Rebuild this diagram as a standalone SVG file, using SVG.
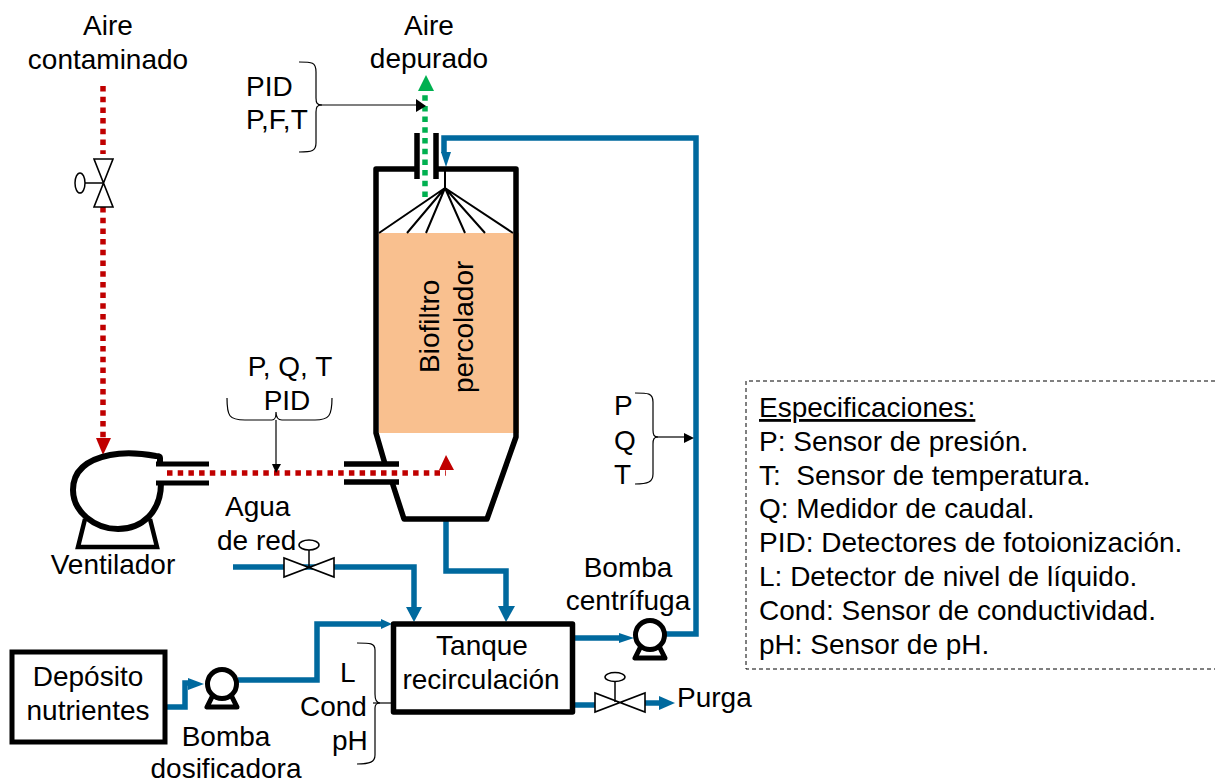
<svg xmlns="http://www.w3.org/2000/svg" width="1215" height="782" viewBox="0 0 1215 782">
<style>
text{font-family:"Liberation Sans",Arial,sans-serif;font-size:28px;fill:#000}
.m{text-anchor:middle}
.blk{fill:none;stroke:#000;stroke-width:5.5;stroke-linejoin:round}
.blue{fill:none;stroke:#00699e;stroke-width:5.5;stroke-linejoin:miter}
.red{fill:none;stroke:#c00000;stroke-width:5.5;stroke-dasharray:5.5 5.2}
.green{fill:none;stroke:#00b050;stroke-width:5.5;stroke-dasharray:5.5 5.2}
.thin{fill:none;stroke:#000;stroke-width:1.2}
.spray{fill:none;stroke:#000;stroke-width:2}
.valve{fill:#fff;stroke:#000;stroke-width:1.6}
</style>
<defs>
<symbol id="pump" overflow="visible"><path d="M-9 11L-15 23H15L9 11" fill="#fff" stroke="#000" stroke-width="5" stroke-linejoin="round"/><circle cx="0" cy="0" r="14.5" fill="#fff" stroke="#000" stroke-width="5"/></symbol>
</defs>

<g id="connectors">
<path class="red" d="M103 86V154"/><path class="red" d="M103 207V438"/>
<path d="M96 438H111L103 455Z" fill="#c00000"/>
<path class="red" d="M167 473H446"/>
<path d="M439 470L446 455L454 470Z" fill="#c00000"/>
<path class="green" d="M425 197V90"/>
<path d="M418 91L426 75L434 91Z" fill="#00b050"/>
<path class="blue" d="M665 634H696V138H444V153"/>
<path d="M441 152H451L446 167Z" fill="#00699e"/>
<path class="blue" d="M446 520V571H506V606"/><path d="M498 606H515L506 622Z" fill="#00699e"/>
<path class="blue" d="M233 567H414V607"/><path d="M406 607H422L414 622Z" fill="#00699e"/>
<path class="blue" d="M238 680H317V624H382"/>
<path class="blue" d="M165 707H185V683H190"/><path d="M188 678L204 684L188 690Z" fill="#00699e"/>
<path class="blue" d="M575 638H620"/><path d="M619 633L634 638L619 643Z" fill="#00699e"/>
<path class="blue" d="M574 705H600M640 703H660"/><path d="M659 696L675 703L659 710Z" fill="#00699e"/>
<path class="thin" d="M318 105H418"/><path d="M416 99L426 106L416 112Z" fill="#000"/>
<path class="thin" d="M655 437H685"/><path d="M684 433L694 438L684 443Z" fill="#000"/>
<path class="thin" d="M276 420V465"/><path d="M272 464L276 473L281 464Z" fill="#000"/>
<path class="thin" d="M373 703H392"/>
</g>

<g id="biofiltro">
<rect x="379" y="233" width="140" height="200" fill="#f9c08f"/>
<path class="blk" d="M417 169H376V433L385 464M392 482L404 519H487L516 437V169H436"/>
<path class="blk" d="M417 133V179M436 133V179"/>
<path class="spray" d="M445 170V188M445 188L379 233M445 188L407 233M445 188L426 233M445 188L465 233M445 188L485 233M445 188L513 233"/>
<path d="M344 464H399M344 482H399" stroke="#000" stroke-width="5.5" fill="none"/>
<text transform="translate(439,373) rotate(-90)">Biofiltro</text>
<text transform="translate(473,393) rotate(-90)">percolador</text>
</g>

<g id="ventilador">
<path d="M85 519L78 547H157L150 519" fill="none" stroke="#000" stroke-width="4.5"/>
<path d="M160 463V458C160 456 158 456 156 456C140 453 125 452 110 455C85 460 73 472 73 490C73 512 95 529 118 529C142 529 161 512 161 483" fill="#fff" stroke="#000" stroke-width="6"/>
<path d="M156 464H209M156 483H209" stroke="#000" stroke-width="5" fill="none"/>
<text class="m" x="113" y="574">Ventilador</text>
</g>

<g id="valvula-aire">
<path class="valve" d="M94 159H113L94 207H113Z"/>
<ellipse cx="80" cy="183" rx="5" ry="10" fill="#fff" stroke="#000" stroke-width="1.5"/>
<path d="M85 183H103" stroke="#000" stroke-width="1.5"/>
</g>

<g id="valvula-agua">
<path class="valve" d="M284 558V577L334 558V577Z"/>
<ellipse cx="309" cy="545" rx="10" ry="5" fill="#fff" stroke="#000" stroke-width="1.5"/>
<path d="M309 550V567" stroke="#000" stroke-width="1.5"/>
</g>

<g id="valvula-purga">
<path class="valve" d="M595 693V712L645 693V712Z"/>
<ellipse cx="615" cy="677" rx="10" ry="4.5" fill="#fff" stroke="#000" stroke-width="1.5"/>
<path d="M615 682V702" stroke="#000" stroke-width="1.5"/>
</g>

<g id="deposito">
<rect x="12" y="652" width="153" height="90" fill="#fff" stroke="#000" stroke-width="5"/>
<text class="m" x="88" y="686">Depósito</text>
<text class="m" x="88" y="720">nutrientes</text>
</g>

<g id="tanque">
<path d="M381 619L392 624L381 629Z" fill="#00699e"/>
<rect x="393.5" y="624" width="179" height="88" fill="#fff" stroke="#000" stroke-width="5.5" stroke-linejoin="round"/>
<text class="m" x="482" y="655">Tanque</text>
<text class="m" x="481" y="689">recirculación</text>
</g>

<g id="bomba-dos"><use href="#pump" x="222" y="684"/>
<text class="m" x="226" y="746">Bomba</text><text class="m" x="226" y="778">dosificadora</text></g>
<g id="bomba-cen"><use href="#pump" x="650" y="635"/>
<text class="m" x="628" y="577">Bomba</text><text class="m" x="628" y="610">centrífuga</text></g>

<g id="labels">
<text class="m" x="108" y="35">Aire</text><text class="m" x="108" y="69">contaminado</text>
<text class="m" x="429" y="35">Aire</text><text class="m" x="429" y="68">depurado</text>
<text x="246" y="96">PID</text><text x="246" y="129">P,F,T</text>
<path class="thin" d="M299 62C312 62 316 62 316 72V98C316 103 317 105 322 105C317 105 316 107 316 112V143C316 151 312 152 299 152"/>
<text class="m" x="290" y="376">P, Q, T</text><text class="m" x="287" y="410">PID</text>
<path class="thin" d="M227 398C227 416 229 420 245 420H272C275 420 276 418 276 412C276 418 278 420 282 420H315C329 420 332 416 332 398"/>
<text x="225" y="516">Agua</text><text x="217" y="550">de red</text>
<text x="614" y="415">P</text><text x="614" y="450">Q</text><text x="614" y="484">T</text>
<path class="thin" d="M635 393C648 393 653 393 653 402V430C653 435 654 437 658 437C654 437 653 439 653 444V474C653 482 648 484 635 484"/>
<text x="340" y="682">L</text><text x="300" y="716">Cond</text><text x="332" y="750">pH</text>
<path class="thin" d="M357 643C370 643 375 643 375 650V694C375 699 376 703 380 703C376 703 375 705 375 708V755C375 762 370 764 357 764"/>
<text x="677" y="707">Purga</text>
</g>

<g id="especificaciones">
<path d="M1215 381H746V669H1215" fill="none" stroke="#000" stroke-width="1" stroke-dasharray="4 3"/>
<text x="759" y="417" text-decoration="underline">Especificaciones:</text>
<text x="759" y="451">P: Sensor de presión.</text>
<text x="759" y="485">T:&#160; Sensor de temperatura.</text>
<text x="759" y="518">Q: Medidor de caudal.</text>
<text x="759" y="552">PID: Detectores de fotoionización.</text>
<text x="759" y="586">L: Detector de nivel de líquido.</text>
<text x="759" y="620">Cond: Sensor de conductividad.</text>
<text x="759" y="654">pH: Sensor de pH.</text>
</g>
</svg>
